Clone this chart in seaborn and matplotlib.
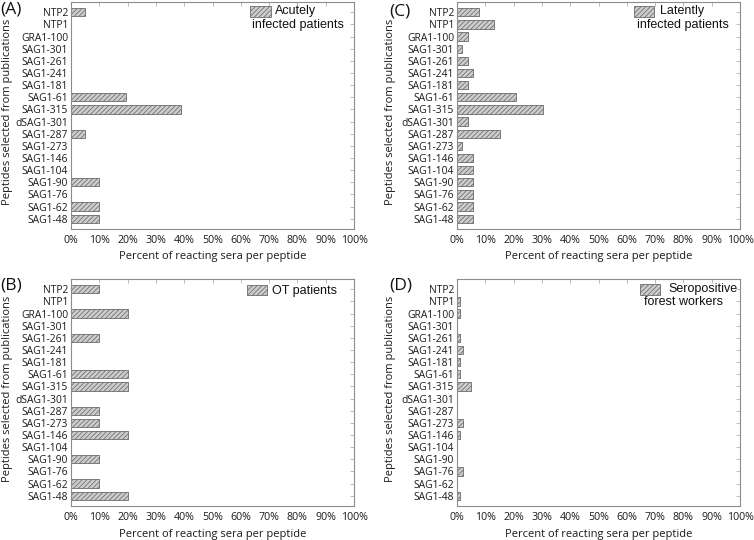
import matplotlib
matplotlib.use("Agg")
import matplotlib.pyplot as plt
import seaborn as sns
import pandas as pd
from matplotlib.patches import Rectangle
from matplotlib.ticker import PercentFormatter

peptides = ["NTP2", "NTP1", "GRA1-100", "SAG1-301", "SAG1-261", "SAG1-241",
            "SAG1-181", "SAG1-61", "SAG1-315", "dSAG1-301", "SAG1-287",
            "SAG1-273", "SAG1-146", "SAG1-104", "SAG1-90", "SAG1-76",
            "SAG1-62", "SAG1-48"]

acute = [5, 0, 0, 0, 0, 0, 0, 19.4, 38.7, 0, 5, 0, 0, 0, 9.8, 0, 9.8, 9.8]
ot = [10, 0, 20, 0, 10, 0, 0, 20, 20, 0, 10, 10, 20, 0, 10, 0, 10, 20]
latent = [7.7, 13.2, 3.9, 1.9, 3.9, 5.8, 3.9, 20.8, 30.4, 3.9, 15.2, 1.9,
          5.8, 5.8, 5.8, 5.8, 5.8, 5.8]
forest = [0, 1.1, 1.1, 0, 1.1, 2.1, 1.1, 1.1, 5.1, 0, 0, 2.1, 1.1, 0, 0,
          2.1, 0, 1.1]

panels = [
    ("(A)", ["Acutely", "infected patients"], acute),
    ("(B)", ["OT patients"], ot),
    ("(C)", ["Latently", "infected patients"], latent),
    ("(D)", ["Seropositive", "forest workers"], forest),
]

sns.set_style("white")
plt.rcParams["font.family"] = ["Open Sans", "DejaVu Sans"]
plt.rcParams["hatch.color"] = "#8e8e8e"
plt.rcParams["hatch.linewidth"] = 0.55

W, H = 754, 540
fig = plt.figure(figsize=(W / 100, H / 100), dpi=100)

layout = {
    "(A)": dict(box=(71, 354, 2, 229), letter=(0, 1), ylab=8,
                patch=(250, 271, 6, 17), l1=(275, 11), l2=(252, 25)),
    "(C)": dict(box=(457, 740, 2, 229), letter=(389, 3), ylab=391,
                patch=(634, 654, 6, 17), l1=(660, 11), l2=(637, 25)),
    "(B)": dict(box=(71, 354, 279, 506), letter=(0, 277), ylab=8,
                patch=(247, 267, 285, 295), l1=(272, 291), l2=None),
    "(D)": dict(box=(457, 740, 279, 506), letter=(389, 278), ylab=391,
                patch=(640, 660, 284, 295), l1=(668, 289), l2=(644, 302)),
}

frame_col = "#8c8c8c"
face = "#cdcdcd"
edge = "#6a6a6a"
txt_col = "#1a1a1a"
hatch = "///////"

for letter, leg, vals in panels:
    L = layout[letter]
    l, r, t, b = L["box"]
    aw, ah = r - l, b - t
    ax = fig.add_axes([l / W, 1 - b / H, aw / W, ah / H])

    def ax_xy(px, py):
        return (px - l) / aw, 1 - (py - t) / ah

    df = pd.DataFrame({"peptide": peptides, "value": vals})
    sns.barplot(data=df, x="value", y="peptide", orient="h", ax=ax,
                color=face, edgecolor=edge, linewidth=0.6,
                width=0.68, saturation=1)
    for p in ax.patches:
        p.set_hatch(hatch)
        if p.get_width() == 0:
            p.set_visible(False)
    ax.set_xlim(0, 100)
    ax.set_ylim(17.85, -0.85)
    ax.set_xticks(range(0, 101, 10))
    ax.xaxis.set_major_formatter(PercentFormatter(decimals=0))
    ax.tick_params(axis="both", direction="in", length=3, width=0.6,
                   color="#b0b0b0", top=True, right=True,
                   labelcolor=txt_col)
    ax.tick_params(axis="y", labelsize=7.4, pad=2)
    ax.tick_params(axis="x", labelsize=7.7, pad=4)
    for s in ax.spines.values():
        s.set_color(frame_col)
        s.set_linewidth(0.8)
        s.set_visible(True)
    ax.set_xlabel("Percent of reacting sera per peptide", fontsize=8,
                  color=txt_col)
    ax.xaxis.set_label_coords(0.5, -28 / ah)
    ax.xaxis.label.set_va("center")
    ax.set_ylabel("Peptides selected from publications", fontsize=8,
                  color=txt_col)
    ax.yaxis.set_label_coords((L["ylab"] - l) / aw, 1 - (111.5 - 2) / 227)
    ax.yaxis.label.set_va("center")
    ax.yaxis.label.set_ha("center")

    # legend key (text wraps under the key)
    x0, x1, y0, y1 = L["patch"]
    ax0, ay1 = ax_xy(x0, y1)
    ax1, ay0 = ax_xy(x1, y0)
    ax.add_patch(Rectangle((ax0, ay1), ax1 - ax0, ay0 - ay1,
                           transform=ax.transAxes, facecolor=face,
                           edgecolor=edge, hatch=hatch, linewidth=0.6,
                           clip_on=False))
    lx, ly = ax_xy(*L["l1"])
    ax.text(lx, ly, leg[0], transform=ax.transAxes, ha="left", va="center",
            family="Liberation Sans", fontsize=9, color="#111111")
    if L["l2"] is not None and len(leg) > 1:
        lx, ly = ax_xy(*L["l2"])
        ax.text(lx, ly, leg[1], transform=ax.transAxes, ha="left",
                va="center", family="Liberation Sans", fontsize=9,
                color="#111111")

    fig.text(L["letter"][0] / W, 1 - L["letter"][1] / H, letter,
             fontsize=12.5, ha="left", va="top", color="#111111")

fig.savefig("out.png", dpi=100)
